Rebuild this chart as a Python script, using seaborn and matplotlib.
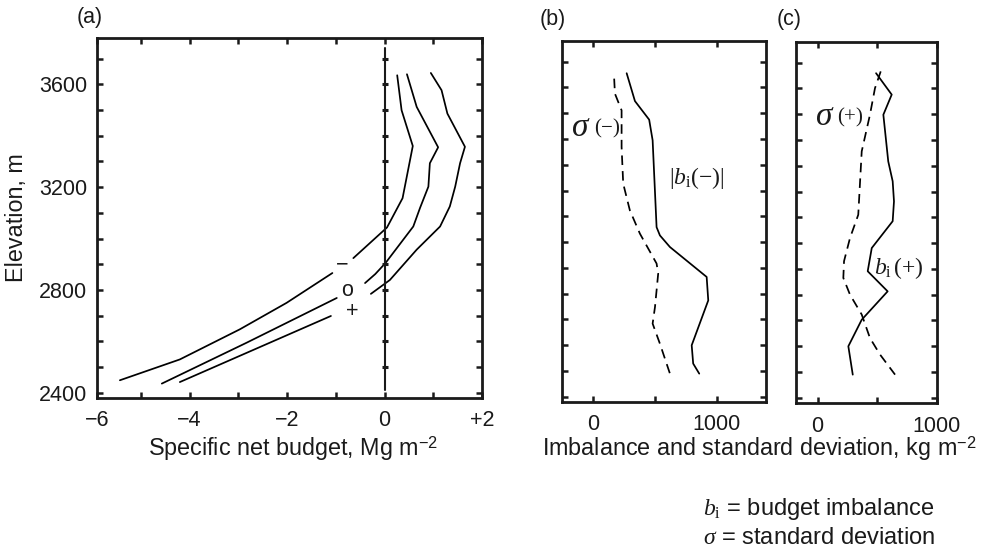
import numpy as np
import pandas as pd
import matplotlib
matplotlib.use("Agg")
import matplotlib.pyplot as plt
import seaborn as sns

# ---------------- data ----------------
# panel (a): specific net budget (Mg m-2) vs elevation (m); each curve in a lower and an upper piece
minus_low_x = [-5.43, -4.20, -2.97, -2.01, -1.07]
minus_low_y = [2449, 2530, 2647, 2750, 2866]
minus_up_x = [-0.64, 0.05, 0.37, 0.58, 0.35, 0.26]
minus_up_y = [2924, 3043, 3157, 3360, 3499, 3635]

zero_low_x = [-4.57, -2.83, -0.98]
zero_low_y = [2436, 2595, 2769]
zero_up_x = [-0.40, -0.19, 0.02, 0.59, 0.73, 0.90, 0.93, 1.10, 0.66, 0.46]
zero_up_y = [2827, 2862, 2905, 3047, 3120, 3202, 3293, 3355, 3512, 3639]

plus_low_x = [-4.20, -1.10]
plus_low_y = [2442, 2699]
plus_up_x = [-0.28, 0.11, 0.66, 1.14, 1.34, 1.45, 1.55, 1.65, 1.29, 1.17, 0.95]
plus_up_y = [2785, 2839, 2957, 3047, 3125, 3202, 3293, 3357, 3486, 3577, 3644]

curve_labels = ["\u2212", "o", "+"]
curve_label_x = [-0.87, -0.77, -0.67]
curve_label_y = [2897, 2800, 2718]

zero_line_y = [2410, 3740]
zero_line_ticks = list(range(2500, 3701, 100))

# panel (b): |b_i(-)| (solid) and sigma(-) (dashed), kg m-2
bneg_x = [273, 340, 455, 483, 515, 542, 623, 920, 933, 799, 811, 860]
bneg_y = [3655, 3547, 3475, 3395, 3058, 3026, 2981, 2865, 2774, 2600, 2529, 2490]
sneg_x = [172, 178, 232, 232, 245, 299, 380, 515, 528, 502, 483, 542, 623]
sneg_y = [3634, 3576, 3511, 3369, 3227, 3123, 3033, 2917, 2878, 2748, 2684, 2606, 2490]

# panel (c): b_i(+) (solid) and sigma(+) (dashed), kg m-2
bpos_x = [490, 621, 551, 592, 629, 640, 629, 454, 420, 587, 370, 258, 295]
bpos_y = [3659, 3576, 3498, 3317, 3240, 3162, 3085, 2981, 2891, 2813, 2703, 2600, 2490]
spos_x = [529, 481, 439, 370, 341, 272, 222, 216, 272, 370, 439, 523, 649]
spos_y = [3666, 3601, 3498, 3356, 3110, 3020, 2930, 2865, 2800, 2723, 2632, 2568, 2490]

elev_ticks = list(range(2400, 3701, 100))
elev_labels = [str(t) if t in (2400, 2800, 3200, 3600) else "" for t in elev_ticks]
a_xticks = [-5.9, -5, -4, -3, -2, -1, 0, 1, 2]
a_xlabels = ["\u22126", "", "\u22124", "", "\u22122", "", "0", "", "+2"]
bc_xticks = [0, 500, 1000]
bc_xlabels = ["0", "", "1000"]

# ---------------- style ----------------
sns.set_theme(style="ticks")
plt.rcParams["font.family"] = ["Liberation Sans", "DejaVu Sans"]
plt.rcParams["mathtext.fontset"] = "custom"
plt.rcParams["mathtext.rm"] = "Liberation Serif"
plt.rcParams["mathtext.it"] = "Liberation Serif:italic"
plt.rcParams["mathtext.sf"] = "Liberation Sans"

W, H = 995, 549
fig = plt.figure(figsize=(W / 100, H / 100), dpi=100)


def box(l, t, r, b):
    return [l / W, 1 - b / H, (r - l) / W, (b - t) / H]


ax_a = fig.add_axes(box(97, 38, 482, 398))
ax_b = fig.add_axes(box(562, 41, 766, 402))
ax_c = fig.add_axes(box(796, 42, 937, 403))

LW = 1.25
DASH = (0, (5.5, 3.5))
TC = "#1a1a1a"


def line(ax, x, y, dashed=False):
    df = pd.DataFrame({"x": x, "y": y})
    kw = dict(linestyle=DASH) if dashed else {}
    sns.lineplot(data=df, x="x", y="y", sort=False, estimator=None, color="black",
                 linewidth=LW, ax=ax, **kw)


for ax in (ax_a, ax_b, ax_c):
    ax.set_ylim(2380, 3780)
    ax.set_yticks(elev_ticks)
    for s in ax.spines.values():
        s.set_linewidth(2.0)
        s.set_color(TC)
        s.set_visible(True)
    ax.tick_params(direction="in", length=4.5, width=1.8, top=True, right=True,
                   labelsize=15.5, colors=TC)
    ax.tick_params(axis="x", pad=9)
    ax.tick_params(axis="y", pad=7)
    ax.set_facecolor("white")

# panel (a)
for x, y in [(minus_low_x, minus_low_y), (minus_up_x, minus_up_y),
             (zero_low_x, zero_low_y), (zero_up_x, zero_up_y),
             (plus_low_x, plus_low_y), (plus_up_x, plus_up_y)]:
    line(ax_a, x, y)
ax_a.plot([0, 0], zero_line_y, color=TC, lw=1.5)
ax_a.plot(np.zeros(len(zero_line_ticks)), zero_line_ticks, ls="none", marker="_",
          ms=5, mew=2.2, color=TC)
for lab, x, y in zip(curve_labels, curve_label_x, curve_label_y):
    ax_a.text(x, y, lab, ha="center", va="center", fontsize=15.5, color=TC)
ax_a.set_xlim(-5.9, 2.0)
ax_a.set_xticks(a_xticks)
ax_a.set_xticklabels(a_xlabels)
ax_a.set_yticklabels(elev_labels)

# panel (b)
line(ax_b, bneg_x, bneg_y)
line(ax_b, sneg_x, sneg_y, dashed=True)
ax_b.set_xlim(-250, 1400)
ax_b.set_xticks(bc_xticks)
ax_b.set_xticklabels(bc_xlabels)
ax_b.set_yticklabels([])
ax_b.text(-175, 3446, r"$\sigma$", fontsize=24, va="center", ha="left", color=TC)
ax_b.text(5, 3440, r"$(-)$", fontsize=15, va="center", ha="left", color=TC)
ax_b.text(615, 3247, r"$|b_{\mathrm{i}}(-)|$", fontsize=17, va="center", ha="left", color=TC)

# panel (c)
line(ax_c, bpos_x, bpos_y)
line(ax_c, spos_x, spos_y, dashed=True)
ax_c.set_xlim(-180, 1000)
ax_c.set_xticks(bc_xticks)
ax_c.set_xticklabels(bc_xlabels)
ax_c.set_yticklabels([])
ax_c.text(-25, 3492, r"$\sigma$", fontsize=24, va="center", ha="left", color=TC)
ax_c.text(165, 3486, r"$(+)$", fontsize=15, va="center", ha="left", color=TC)
ax_c.text(473, 2905, r"$b_{\mathrm{i}}\,(+)$", fontsize=17, va="center", ha="left", color=TC)

for ax in (ax_a, ax_b, ax_c):
    ax.set_xlabel("")
    ax.set_ylabel("")

# figure texts
fig.text(90 / W, 1 - 18 / H, "(a)", ha="center", va="center", fontsize=15.5, color=TC)
fig.text(553 / W, 1 - 19 / H, "(b)", ha="center", va="center", fontsize=15.5, color=TC)
fig.text(789 / W, 1 - 19 / H, "(c)", ha="center", va="center", fontsize=15.5, color=TC)
fig.text(17 / W, 1 - 218 / H, "Elevation, m", rotation=90, ha="center", va="center",
         fontsize=16.8, color=TC)
fig.text(293 / W, 1 - 449 / H, r"Specific net budget, Mg m$^{\mathsf{-2}}$", ha="center",
         va="center", fontsize=16.8, color=TC)
fig.text(759 / W, 1 - 449 / H, r"Imbalance and standard deviation, kg m$^{\mathsf{-2}}$",
         ha="center", va="center", fontsize=16.8, color=TC)
fig.text(703 / W, 1 - 509 / H, r"$b_{\mathrm{i}}$" + " = budget imbalance", ha="left",
         va="center", fontsize=17, color=TC)
fig.text(703 / W, 1 - 538 / H, r"$\sigma$" + " = standard deviation", ha="left",
         va="center", fontsize=17, color=TC)

fig.savefig("out.png", dpi=100, facecolor="white")
